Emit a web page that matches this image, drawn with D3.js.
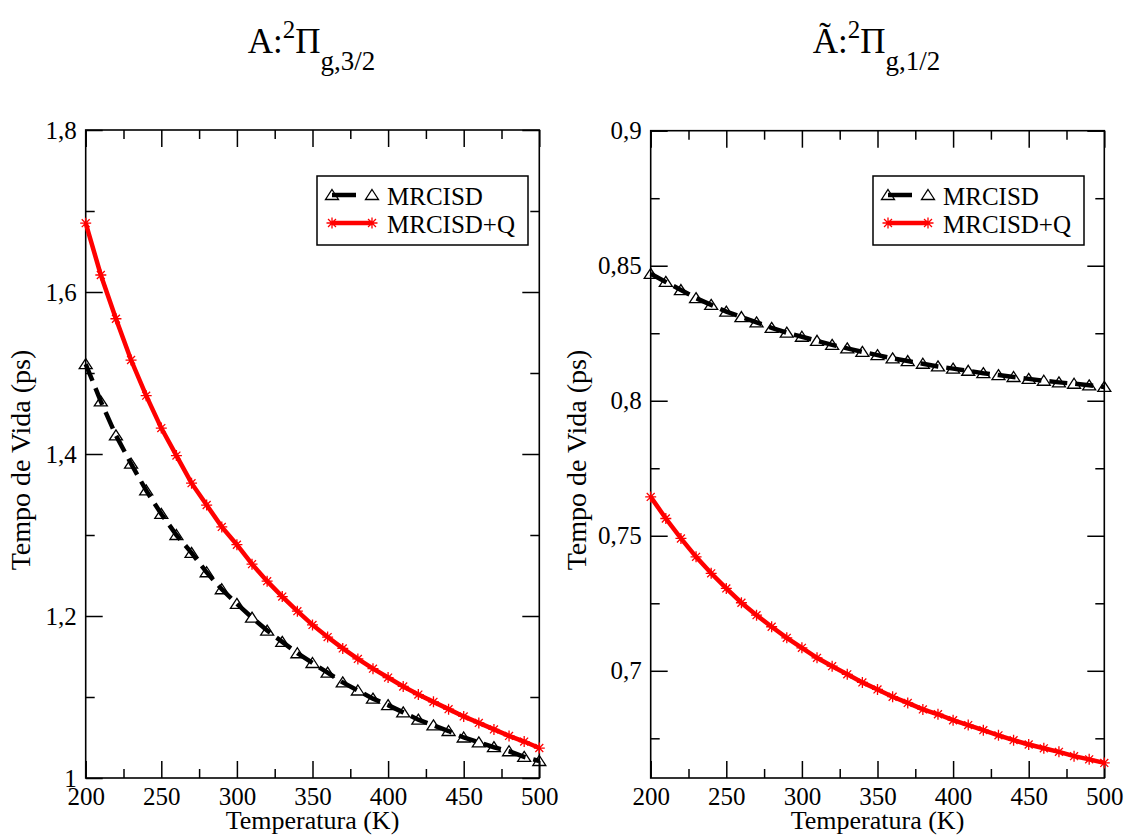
<!DOCTYPE html>
<html>
<head>
<meta charset="utf-8">
<script src="https://cdn.jsdelivr.net/npm/d3@7"></script>
<style>
body { margin: 0; background: #fff; }
svg text { font-family: "Liberation Serif", "Times New Roman", serif; fill: #000; }
</style>
</head>
<body>
<div id="chart"></div>
<script>
// Temperatures (K) where both series are sampled
const temperatures = [200, 210, 220, 230, 240, 250, 260, 270, 280, 290, 300,
    310, 320, 330, 340, 350, 360, 370, 380, 390, 400,
    410, 420, 430, 440, 450, 460, 470, 480, 490, 500];

// Left panel: A 2Pi g,3/2
const mrcisdLeft = [1.511, 1.465, 1.423, 1.388, 1.355, 1.326, 1.300, 1.278, 1.254, 1.233, 1.215,
    1.198, 1.182, 1.168, 1.154, 1.142, 1.130, 1.118, 1.108, 1.098, 1.090,
    1.081, 1.072, 1.065, 1.058, 1.050, 1.044, 1.038, 1.033, 1.026, 1.021];
const mrcisdQLeft = [1.685, 1.621, 1.567, 1.516, 1.472, 1.432, 1.398, 1.364, 1.337, 1.310, 1.288,
    1.264, 1.243, 1.224, 1.206, 1.189, 1.174, 1.160, 1.147, 1.135, 1.124,
    1.113, 1.103, 1.094, 1.085, 1.076, 1.068, 1.060, 1.052, 1.045, 1.037];

// Right panel: Ã 2Pi g,1/2
const mrcisdRight = [0.8470, 0.8440, 0.8410, 0.8380, 0.8355, 0.8330, 0.8310, 0.8290, 0.8270, 0.8252, 0.8237,
    0.8222, 0.8207, 0.8194, 0.8181, 0.8169, 0.8157, 0.8147, 0.8137, 0.8127, 0.8119,
    0.8111, 0.8102, 0.8095, 0.8088, 0.8081, 0.8074, 0.8068, 0.8063, 0.8057, 0.8051];
const mrcisdQRight = [0.7644, 0.7564, 0.7490, 0.7422, 0.7361, 0.7305, 0.7252, 0.7206, 0.7163, 0.7122, 0.7085,
    0.7048, 0.7017, 0.6987, 0.6957, 0.6931, 0.6904, 0.6881, 0.6857, 0.6839, 0.6817,
    0.6799, 0.6780, 0.6761, 0.6743, 0.6727, 0.6713, 0.6700, 0.6684, 0.6672, 0.6659];

// Tick values
const xMajor = [200, 250, 300, 350, 400, 450, 500];
const xMinor = [225, 275, 325, 375, 425, 475];
const yMajorLeft = [1, 1.2, 1.4, 1.6, 1.8];
const yMinorLeft = [1.1, 1.3, 1.5, 1.7];
const yMajorRight = [0.7, 0.75, 0.8, 0.85, 0.9];
const yMinorRight = [0.675, 0.725, 0.775, 0.825, 0.875];

const seriesNames = ["MRCISD", "MRCISD+Q"];
const xLabel = "Temperatura (K)";
const yLabel = "Tempo de Vida (ps)";

const width = 1126, height = 837;
const svg = d3.select("#chart").append("svg")
    .attr("width", width)
    .attr("height", height);

// comma as decimal separator
const fmt = d3.formatLocale({decimal: ",", thousands: ".", grouping: [3], currency: ["", ""]}).format("~g");

const MAJOR = 17, MINOR = 9;

function trianglePath(g) {
    return g.append("path").attr("d", "M0,-5.5L6.5,4.5L-6.5,4.5Z")
        .attr("fill", "none").attr("stroke", "#000").attr("stroke-width", 1.3);
}

function asterisk(g) {
    const r = 5.5, d = r * 0.72;
    g.append("path")
        .attr("d", `M${-r},0H${r}M0,${-r}V${r}M${-d},${-d}L${d},${d}M${-d},${d}L${d},${-d}`)
        .attr("stroke", "#ff0000").attr("stroke-width", 1.3).attr("fill", "none");
}

function drawPanel(p) {
    const x = d3.scaleLinear().domain([200, 500]).range([p.left, p.right]);
    const y = d3.scaleLinear().domain(p.yDomain).range([p.bottom, p.top]);
    const g = svg.append("g");

    // Ticks: major with labels on left/bottom, mirrored on top/right, minor everywhere
    function addAxis(axis, transform, labelled) {
        const a = g.append("g").attr("transform", transform).call(axis)
            .attr("font-family", '"Liberation Serif", serif');
        a.select(".domain").remove();
        a.selectAll(".tick line").attr("stroke", "#000").attr("stroke-width", 1.5);
        if (labelled) {
            a.selectAll("text").attr("font-size", 25).attr("fill", "#000");
        } else {
            a.selectAll("text").remove();
        }
        return a;
    }

    addAxis(d3.axisBottom(x).tickValues(xMajor).tickSizeInner(-MAJOR).tickSizeOuter(0).tickPadding(9).tickFormat(d3.format("d")),
        `translate(0,${p.bottom})`, true);
    addAxis(d3.axisBottom(x).tickValues(xMinor).tickSizeInner(-MINOR).tickSizeOuter(0),
        `translate(0,${p.bottom})`, false);
    addAxis(d3.axisTop(x).tickValues(xMajor).tickSizeInner(-MAJOR).tickSizeOuter(0),
        `translate(0,${p.top})`, false);
    addAxis(d3.axisTop(x).tickValues(xMinor).tickSizeInner(-MINOR).tickSizeOuter(0),
        `translate(0,${p.top})`, false);

    addAxis(d3.axisLeft(y).tickValues(p.yMajor).tickSizeInner(-MAJOR).tickSizeOuter(0).tickPadding(9).tickFormat(fmt),
        `translate(${p.left},0)`, true);
    addAxis(d3.axisLeft(y).tickValues(p.yMinor).tickSizeInner(-MINOR).tickSizeOuter(0),
        `translate(${p.left},0)`, false);
    addAxis(d3.axisRight(y).tickValues(p.yMajor).tickSizeInner(-MAJOR).tickSizeOuter(0),
        `translate(${p.right},0)`, false);
    addAxis(d3.axisRight(y).tickValues(p.yMinor).tickSizeInner(-MINOR).tickSizeOuter(0),
        `translate(${p.right},0)`, false);

    // Frame
    g.append("rect")
        .attr("x", p.left).attr("y", p.top)
        .attr("width", p.right - p.left).attr("height", p.bottom - p.top)
        .attr("fill", "none").attr("stroke", "#000").attr("stroke-width", 1.6);

    const line = d3.line()
        .x((d, i) => x(temperatures[i]))
        .y(d => y(d));

    // MRCISD: dashed black with hollow triangles
    g.append("path").datum(p.black)
        .attr("d", line)
        .attr("fill", "none").attr("stroke", "#000")
        .attr("stroke-width", 4.5).attr("stroke-dasharray", "18,8");
    g.selectAll(".tri").data(p.black).join("g")
        .attr("transform", (d, i) => `translate(${x(temperatures[i])},${y(d)})`)
        .each(function() { trianglePath(d3.select(this)); });

    // MRCISD+Q: solid red with asterisks
    g.append("path").datum(p.red)
        .attr("d", line)
        .attr("fill", "none").attr("stroke", "#ff0000")
        .attr("stroke-width", 4.5);
    g.selectAll(".ast").data(p.red).join("g")
        .attr("transform", (d, i) => `translate(${x(temperatures[i])},${y(d)})`)
        .each(function() { asterisk(d3.select(this)); });

    // Axis titles
    g.append("text")
        .attr("x", (p.left + p.right) / 2).attr("y", 829)
        .attr("text-anchor", "middle").attr("font-size", 26)
        .text(xLabel);
    g.append("text")
        .attr("transform", `translate(${p.yTitleX},460) rotate(-90)`)
        .attr("text-anchor", "middle").attr("font-size", 28)
        .text(yLabel);

    // Panel title with pre-superscript and subscript
    const t = g.append("text")
        .attr("x", (p.left + p.right) / 2 - 1).attr("y", 53)
        .attr("text-anchor", "middle").attr("font-size", 35);
    t.append("tspan").text(p.titleMain);
    t.append("tspan").attr("font-size", 25).attr("dy", -15).text("2");
    t.append("tspan").attr("dy", 15).text("\u03A0");
    t.append("tspan").attr("font-size", 27).attr("dy", 17).text(p.titleSub);

    // Legend
    const lg = g.append("g").attr("transform", `translate(${p.legendX},176)`);
    lg.append("rect")
        .attr("width", 211).attr("height", 69)
        .attr("fill", "#fff").attr("stroke", "#000").attr("stroke-width", 1.5);
    const rows = [
        {y: 19, name: seriesNames[0], kind: "black"},
        {y: 47, name: seriesNames[1], kind: "red"}
    ];
    rows.forEach(r => {
        const x1 = 15, x2 = 55;
        if (r.kind === "black") {
            lg.append("line").attr("x1", x1).attr("x2", x2).attr("y1", r.y).attr("y2", r.y)
                .attr("stroke", "#000").attr("stroke-width", 4.5).attr("stroke-dasharray", "24,20");
            [x1, x2].forEach(xx => trianglePath(lg.append("g").attr("transform", `translate(${xx},${r.y})`)));
        } else {
            lg.append("line").attr("x1", x1).attr("x2", x2).attr("y1", r.y).attr("y2", r.y)
                .attr("stroke", "#ff0000").attr("stroke-width", 4.5);
            [x1, x2].forEach(xx => asterisk(lg.append("g").attr("transform", `translate(${xx},${r.y})`)));
        }
        lg.append("text").attr("x", 70).attr("y", r.y + 10)
            .attr("font-size", 25).text(r.name);
    });
}

drawPanel({
    left: 85.7, right: 539.3, top: 130, bottom: 778,
    yDomain: [1, 1.8], yMajor: yMajorLeft, yMinor: yMinorLeft,
    black: mrcisdLeft, red: mrcisdQLeft,
    titleMain: "A:", titleSub: "g,3/2",
    legendX: 317, yTitleX: 30
});

drawPanel({
    left: 650.7, right: 1104.3, top: 130.7, bottom: 778,
    yDomain: [0.6603, 0.9], yMajor: yMajorRight, yMinor: yMinorRight,
    black: mrcisdRight, red: mrcisdQRight,
    titleMain: "\u00C3:", titleSub: "g,1/2",
    legendX: 873, yTitleX: 586
});
</script>
</body>
</html>
